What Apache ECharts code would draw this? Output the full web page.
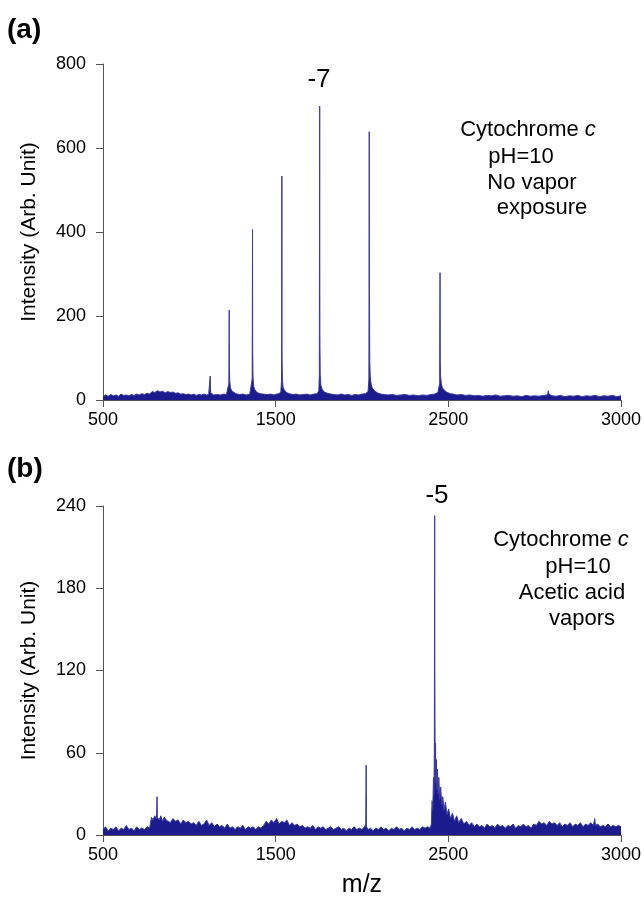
<!DOCTYPE html>
<html lang="en">
<head>
    <meta charset="UTF-8">
    <title>Cytochrome c spectra</title>
    <script src="https://cdn.jsdelivr.net/npm/echarts@6/dist/echarts.min.js"></script>
</head>
<body style="margin: 0">
<div id="main" style="width: 644px;height: 900px"></div>
<script>
    // x ticks: the figure's last tick sits at 3500 but is printed "3000"
    const xTickValues = [500, 1500, 2500, 3500];
    const xTickLabels = ['500', '1500', '2500', '3000'];

    // (a) no vapor exposure, [m/z, intensity]
    const spectrumA = [
        [500, 8], [515, 12], [530, 9], [545, 13], [560, 10], [575, 12], [590, 9], [605, 14], [620, 11], [635, 12],
        [650, 10], [665, 13], [680, 11], [695, 14], [710, 12], [725, 15], [740, 13], [755, 16], [770, 14], [785, 20],
        [800, 18], [815, 22], [830, 19], [845, 21], [860, 17], [875, 20], [890, 18], [905, 19], [920, 16], [935, 17],
        [950, 14], [965, 15], [980, 13], [995, 14], [1010, 12], [1025, 14], [1040, 11], [1055, 13], [1070, 12], [1085, 14],
        [1100, 12], [1112, 13], [1119, 15], [1121, 57], [1123, 18], [1126, 14], [1140, 12], [1160, 13], [1180, 12], [1200, 14],
        [1215, 13], [1226, 15], [1229, 40], [1231, 214], [1232, 88], [1234, 45], [1238, 30], [1245, 22], [1255, 18], [1270, 15],
        [1290, 13], [1310, 14], [1330, 12], [1350, 14], [1360, 16], [1364, 50], [1366, 406], [1367, 119], [1369, 55], [1373, 32],
        [1380, 24], [1392, 18], [1410, 15], [1430, 14], [1450, 13], [1470, 14], [1490, 12], [1505, 14], [1520, 15], [1530, 20],
        [1534, 45], [1536, 533], [1537, 102], [1539, 50], [1543, 30], [1550, 24], [1562, 18], [1580, 15], [1600, 13], [1620, 14],
        [1640, 12], [1660, 13], [1680, 14], [1700, 12], [1720, 14], [1740, 15], [1750, 22], [1753, 60], [1755, 700], [1756, 155],
        [1758, 60], [1762, 35], [1770, 25], [1782, 19], [1800, 16], [1820, 14], [1840, 13], [1860, 12], [1880, 14], [1900, 12],
        [1920, 13], [1940, 11], [1960, 13], [1980, 12], [2000, 14], [2020, 15], [2035, 20], [2040, 50], [2042, 639], [2043, 302],
        [2045, 90], [2048, 55], [2053, 38], [2060, 28], [2072, 22], [2090, 17], [2110, 14], [2130, 13], [2150, 12], [2175, 13],
        [2200, 11], [2225, 12], [2250, 13], [2275, 11], [2300, 12], [2325, 10], [2350, 12], [2375, 11], [2400, 13], [2420, 14],
        [2440, 18], [2450, 40], [2452, 303], [2453, 100], [2455, 60], [2459, 40], [2465, 30], [2475, 24], [2490, 19], [2510, 15],
        [2530, 14], [2550, 12], [2575, 13], [2600, 11], [2625, 12], [2650, 10], [2675, 11], [2700, 9], [2725, 11], [2750, 10],
        [2775, 12], [2800, 9], [2825, 10], [2850, 11], [2875, 9], [2900, 10], [2925, 8], [2950, 11], [2975, 9], [3000, 10],
        [3025, 9], [3050, 11], [3075, 12], [3079, 22], [3083, 14], [3100, 10], [3125, 9], [3150, 11], [3175, 8], [3200, 10],
        [3225, 9], [3250, 11], [3275, 8], [3300, 10], [3325, 9], [3350, 11], [3375, 8], [3400, 10], [3425, 9], [3450, 11],
        [3475, 8], [3500, 10]
    ];

    // (b) acetic acid vapors, [m/z, intensity]
    const spectrumB = [
        [500, 4], [515, 6], [530, 3], [545, 5], [560, 4], [575, 6], [590, 3], [605, 5], [620, 4], [635, 7],
        [650, 4], [665, 5], [680, 3], [695, 6], [710, 4], [725, 5], [740, 4], [755, 6], [770, 5], [778, 6],
        [781, 13], [790, 11], [800, 14], [808, 12], [811, 16], [813, 28], [815, 13], [825, 11], [835, 14], [845, 10],
        [855, 13], [865, 11], [875, 12], [890, 9], [905, 12], [920, 10], [935, 11], [950, 8], [965, 11], [980, 9],
        [995, 10], [1010, 8], [1025, 9], [1040, 7], [1055, 10], [1070, 7], [1085, 8], [1100, 11], [1115, 7], [1130, 9],
        [1145, 6], [1160, 8], [1175, 6], [1190, 7], [1205, 5], [1220, 8], [1235, 5], [1250, 6], [1265, 4], [1280, 6],
        [1295, 5], [1310, 7], [1325, 4], [1340, 6], [1355, 5], [1370, 6], [1385, 4], [1400, 6], [1415, 5], [1430, 7],
        [1445, 10], [1460, 8], [1475, 11], [1490, 9], [1505, 12], [1520, 8], [1535, 10], [1550, 9], [1565, 11], [1580, 7],
        [1595, 9], [1610, 7], [1625, 8], [1640, 6], [1655, 7], [1670, 5], [1685, 6], [1700, 5], [1715, 7], [1730, 4],
        [1745, 6], [1760, 5], [1775, 6], [1790, 4], [1805, 5], [1820, 6], [1835, 4], [1850, 5], [1865, 6], [1880, 4],
        [1895, 5], [1910, 3], [1925, 5], [1940, 4], [1955, 6], [1970, 4], [1985, 5], [2000, 4], [2015, 6], [2022, 8],
        [2024, 51], [2026, 6], [2035, 4], [2050, 5], [2065, 3], [2080, 5], [2095, 4], [2110, 6], [2125, 4], [2140, 5],
        [2155, 3], [2170, 5], [2185, 4], [2200, 6], [2215, 4], [2230, 5], [2245, 3], [2260, 5], [2275, 4], [2290, 6],
        [2305, 4], [2320, 5], [2335, 4], [2350, 6], [2365, 5], [2380, 6], [2395, 5], [2402, 8], [2406, 25], [2410, 18],
        [2414, 42], [2417, 30], [2419, 60], [2421, 233], [2422, 115], [2424, 45], [2426, 67], [2428, 38], [2431, 55], [2434, 33],
        [2437, 48], [2441, 30], [2445, 42], [2450, 26], [2456, 35], [2462, 22], [2468, 28], [2475, 18], [2483, 24], [2492, 15],
        [2502, 19], [2512, 12], [2524, 16], [2536, 10], [2548, 14], [2560, 9], [2575, 12], [2590, 8], [2605, 10], [2620, 7],
        [2635, 9], [2650, 6], [2665, 8], [2680, 6], [2695, 7], [2710, 5], [2725, 8], [2740, 6], [2755, 7], [2770, 5],
        [2785, 8], [2800, 6], [2815, 7], [2830, 5], [2845, 7], [2860, 6], [2875, 8], [2890, 5], [2905, 7], [2920, 6],
        [2935, 8], [2950, 6], [2965, 7], [2980, 5], [2995, 8], [3010, 7], [3025, 10], [3040, 8], [3055, 9], [3070, 7],
        [3085, 10], [3100, 8], [3115, 9], [3130, 7], [3145, 9], [3160, 6], [3175, 8], [3190, 7], [3205, 9], [3220, 6],
        [3235, 8], [3250, 7], [3265, 9], [3280, 6], [3295, 8], [3310, 7], [3325, 9], [3340, 7], [3348, 12], [3352, 7],
        [3365, 8], [3380, 6], [3395, 7], [3410, 6], [3425, 8], [3440, 6], [3455, 7], [3470, 6], [3485, 7], [3500, 6]
    ];

    const textA = ['Cytochrome c', 'pH=10', 'No vapor', 'exposure'];
    const textB = ['Cytochrome c', 'pH=10', 'Acetic acid', 'vapors'];

    const font = '"Liberation Sans", Arial, sans-serif';
    const navy = '#1b1b8e';
    const spike = '#3a3aa4';
    const axisGrey = '#555';

    function xAxisFor(gridIndex, name) {
        return {
            gridIndex: gridIndex,
            type: 'value',
            min: 500, max: 3500, interval: 1000,
            name: name,
            nameLocation: 'middle',
            nameGap: 38,
            nameTextStyle: {fontSize: 25, color: '#000', fontFamily: font},
            axisLine: {show: true, onZero: false, lineStyle: {color: axisGrey}},
            axisTick: {show: true, length: 7, lineStyle: {color: axisGrey}},
            splitLine: {show: false},
            axisLabel: {
                fontSize: 18, color: '#000', fontFamily: font, margin: 11,
                formatter: function (v) {
                    const i = xTickValues.indexOf(v);
                    return i < 0 ? '' : xTickLabels[i];
                }
            }
        };
    }

    function yAxisFor(gridIndex, max, interval) {
        return {
            gridIndex: gridIndex,
            type: 'value',
            min: 0, max: max, interval: interval,
            name: 'Intensity (Arb. Unit)',
            nameLocation: 'middle',
            nameRotate: 90,
            nameGap: 63,
            nameTextStyle: {fontSize: 21, color: '#000', fontFamily: font},
            axisLine: {show: true, lineStyle: {color: axisGrey}},
            axisTick: {show: true, length: 7, lineStyle: {color: axisGrey}},
            splitLine: {show: false},
            axisLabel: {fontSize: 18, color: '#000', fontFamily: font, margin: 17}
        };
    }

    function seriesFor(index, data) {
        return {
            type: 'line',
            xAxisIndex: index,
            yAxisIndex: index,
            data: data,
            symbol: 'none',
            animation: false,
            lineStyle: {color: spike, width: 1},
            areaStyle: {color: navy, opacity: 1}
        };
    }

    function textBlock(lines, xs, ys) {
        return lines.map(function (t, i) {
            const italicC = t === 'Cytochrome c';
            return {
                type: 'text',
                x: xs[i], y: ys[i],
                style: {
                    text: italicC ? '{n|Cytochrome }{i|c}' : t,
                    fill: '#000',
                    font: '22px ' + font,
                    textAlign: 'center',
                    textVerticalAlign: 'middle',
                    rich: {
                        n: {fontSize: 22, fontFamily: font},
                        i: {fontSize: 22, fontFamily: font, fontStyle: 'italic'}
                    }
                }
            };
        });
    }

    const chart = echarts.init(document.getElementById('main'));
    chart.setOption({
        backgroundColor: '#fff',
        animation: false,
        grid: [
            {left: 103, right: 21, top: 64, height: 336},
            {left: 103, right: 21, top: 506, height: 329}
        ],
        xAxis: [xAxisFor(0, ''), xAxisFor(1, 'm/z')],
        yAxis: [yAxisFor(0, 800, 200), yAxisFor(1, 240, 60)],
        series: [seriesFor(0, spectrumA), seriesFor(1, spectrumB)],
        graphic: [
            {type: 'text', x: 7, y: 30, style: {text: '(a)', font: 'bold 28px ' + font, fill: '#000', textVerticalAlign: 'middle'}},
            {type: 'text', x: 7, y: 469, style: {text: '(b)', font: 'bold 28px ' + font, fill: '#000', textVerticalAlign: 'middle'}},
            {type: 'text', x: 319, y: 80, style: {text: '-7', font: '26px ' + font, fill: '#000', textAlign: 'center', textVerticalAlign: 'middle'}},
            {type: 'text', x: 437, y: 496, style: {text: '-5', font: '26px ' + font, fill: '#000', textAlign: 'center', textVerticalAlign: 'middle'}}
        ].concat(textBlock(textA, [528, 521, 532, 542], [130, 157, 183, 208]))
         .concat(textBlock(textB, [561, 578, 572, 582], [540, 567, 593, 619]))
    });
</script>
</body>
</html>
